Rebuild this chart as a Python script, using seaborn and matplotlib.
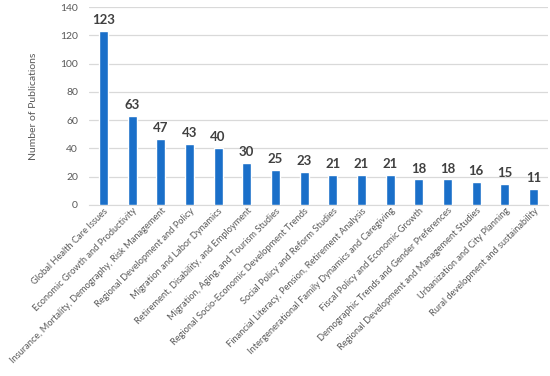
import seaborn as sns
import matplotlib.pyplot as plt

topics = [
    "Global Health Care Issues",
    "Economic Growth and Productivity",
    "Insurance, Mortality, Demography, Risk Management",
    "Regional Development and Policy",
    "Migration and Labor Dynamics",
    "Retirement, Disability, and Employment",
    "Migration, Aging, and Tourism Studies",
    "Regional Socio-Economic Development Trends",
    "Social Policy and Reform Studies",
    "Financial Literacy, Pension, Retirement Analysis",
    "Intergenerational Family Dynamics and Caregiving",
    "Fiscal Policy and Economic Growth",
    "Demographic Trends and Gender Preferences",
    "Regional Development and Management Studies",
    "Urbanization and City Planning",
    "Rural development and sustainability",
]
publications = [123, 63, 47, 43, 40, 30, 25, 23, 21, 21, 21, 18, 18, 16, 15, 11]

sns.set_style("white")
plt.rcParams["font.family"] = ["Lato", "DejaVu Sans"]

fig = plt.figure(figsize=(5.5, 3.76), dpi=100)
ax = fig.add_axes([0.162, 0.455, 0.834, 0.526])

sns.barplot(x=topics, y=publications, color="#1a6fc9", width=0.32,
            saturation=1, ax=ax, zorder=3)

# value labels above bars
for i, v in enumerate(publications):
    ax.text(i, v + 3.5, str(v), ha="center", va="bottom", fontsize=9.5,
            fontweight="bold", color="#404040")

ax.set_ylim(0, 140)
ax.set_yticks(range(0, 141, 20))
ax.set_xlim(-0.5, len(topics) - 0.5)
ax.yaxis.grid(True, color="#d9d9d9", linewidth=0.9, zorder=0)
for s in ["top", "right", "left"]:
    ax.spines[s].set_visible(False)
ax.spines["bottom"].set_color("#d9d9d9")
ax.tick_params(axis="y", labelsize=7.5, colors="#595959", length=0, pad=8)
ax.tick_params(axis="x", length=0, pad=1)
ax.set_xticks(range(len(topics)))
ax.set_xticklabels(topics, rotation=45, ha="right", rotation_mode="anchor",
                   fontsize=6.7, color="#595959")
ax.set_ylabel("Number of Publications", fontsize=7.5, color="#595959", labelpad=16)

fig.savefig("out.png", dpi=100)
